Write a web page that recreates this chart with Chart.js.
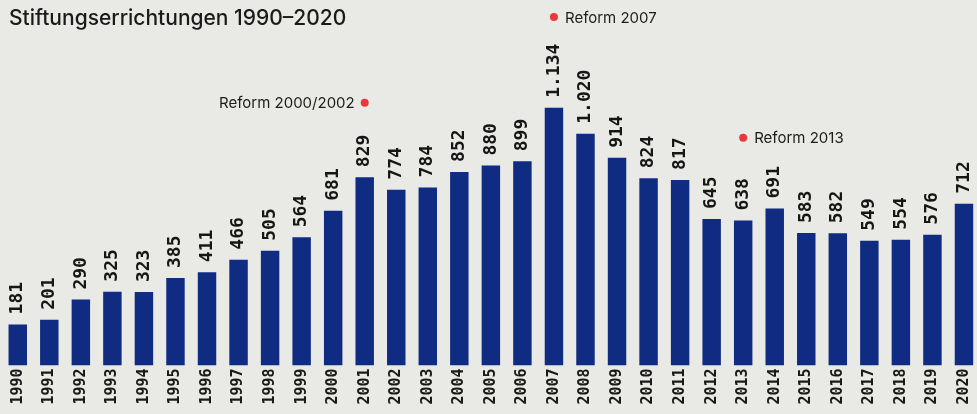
<!DOCTYPE html>
<html>
<head>
<meta charset="utf-8">
<script src="https://cdn.jsdelivr.net/npm/chart.js@4.4.0/dist/chart.umd.min.js"></script>
<style>
  html, body { margin: 0; padding: 0; background: #e9e9e5; overflow: hidden; }
  #wrap { width: 985px; height: 414px; position: relative; }
</style>
</head>
<body>
<div id="wrap"><canvas id="chart"></canvas></div>
<script>
// Stiftungserrichtungen je Jahr
const years = ['1990','1991','1992','1993','1994','1995','1996','1997','1998','1999',
  '2000','2001','2002','2003','2004','2005','2006','2007','2008','2009',
  '2010','2011','2012','2013','2014','2015','2016','2017','2018','2019','2020'];
const counts = [181, 201, 290, 325, 323, 385, 411, 466, 505, 564,
  681, 829, 774, 784, 852, 880, 899, 1134, 1020, 914,
  824, 817, 645, 638, 691, 583, 582, 549, 554, 576, 712];

// Reform-Markierungen
const reformLabels = ['Reform 2000/2002', 'Reform 2007', 'Reform 2013'];
const reformYears = ['2001', '2007', '2013'];
const reformLevels = [1156, 1534, 1002];
const reformSide = ['left', 'right', 'right'];

const titleText = 'Stiftungserrichtungen 1990–2020';

function fmt(v){
  // deutsches Tausendertrennzeichen
  return v >= 1000 ? Math.floor(v/1000) + '.' + String(v % 1000).padStart(3,'0') : String(v);
}

const extras = {
  id: 'extras',
  afterDatasetsDraw(chart){
    const ctx = chart.ctx;
    const x = chart.scales.x, y = chart.scales.y;
    const meta = chart.getDatasetMeta(0);

    // Werte ueber den Balken, hochkant
    ctx.save();
    ctx.fillStyle = '#161616';
    ctx.font = 'bold 18px "DejaVu Sans Mono"';
    ctx.textAlign = 'left';
    ctx.textBaseline = 'middle';
    meta.data.forEach((bar, i) => {
      ctx.save();
      ctx.translate(bar.x, bar.y - 10);
      ctx.rotate(-Math.PI/2);
      ctx.fillText(fmt(counts[i]), 0, 0);
      ctx.restore();
    });
    ctx.restore();

    // Reformen
    ctx.save();
    ctx.font = '15px Inter';
    ctx.textBaseline = 'middle';
    reformLabels.forEach((t, i) => {
      const px = x.getPixelForValue(years.indexOf(reformYears[i]));
      const py = y.getPixelForValue(reformLevels[i]);
      ctx.fillStyle = '#e8373f';
      ctx.beginPath();
      ctx.arc(px, py, 4, 0, Math.PI*2);
      ctx.fill();
      ctx.fillStyle = '#1c1c1c';
      if (reformSide[i] === 'left') {
        ctx.textAlign = 'right';
        ctx.fillText(t, px - 10, py + 1);
      } else {
        ctx.textAlign = 'left';
        ctx.fillText(t, px + 11, py + 1);
      }
    });
    ctx.restore();

    // Titel
    ctx.save();
    ctx.fillStyle = '#1a1a1a';
    ctx.font = '500 21px Inter';
    ctx.textAlign = 'left';
    ctx.textBaseline = 'alphabetic';
    ctx.fillText(titleText, 9, 25);
    ctx.restore();
  }
};

new Chart(document.getElementById('chart'), {
  type: 'bar',
  data: {
    labels: years,
    datasets: [{
      data: counts,
      backgroundColor: '#0f2b82',
      borderWidth: 0,
      barPercentage: 0.585,
      categoryPercentage: 1.0
    }]
  },
  options: {
    responsive: true,
    maintainAspectRatio: false,
    animation: false,
    layout: { padding: { left: 2, right: 2, top: 2, bottom: 0 } },
    plugins: {
      legend: { display: false },
      tooltip: { enabled: false }
    },
    scales: {
      x: {
        grid: { display: false, drawTicks: false },
        border: { display: false },
        ticks: {
          color: '#1a1a1a',
          font: { family: 'DejaVu Sans Mono', size: 15, weight: 'bold' },
          minRotation: 90,
          maxRotation: 90,
          padding: 3,
          autoSkip: false
        },
        afterFit(scale){ scale.height = 48.5; }
      },
      y: {
        display: false,
        min: 0,
        max: 1600
      }
    }
  },
  plugins: [extras]
});
</script>
</body>
</html>
